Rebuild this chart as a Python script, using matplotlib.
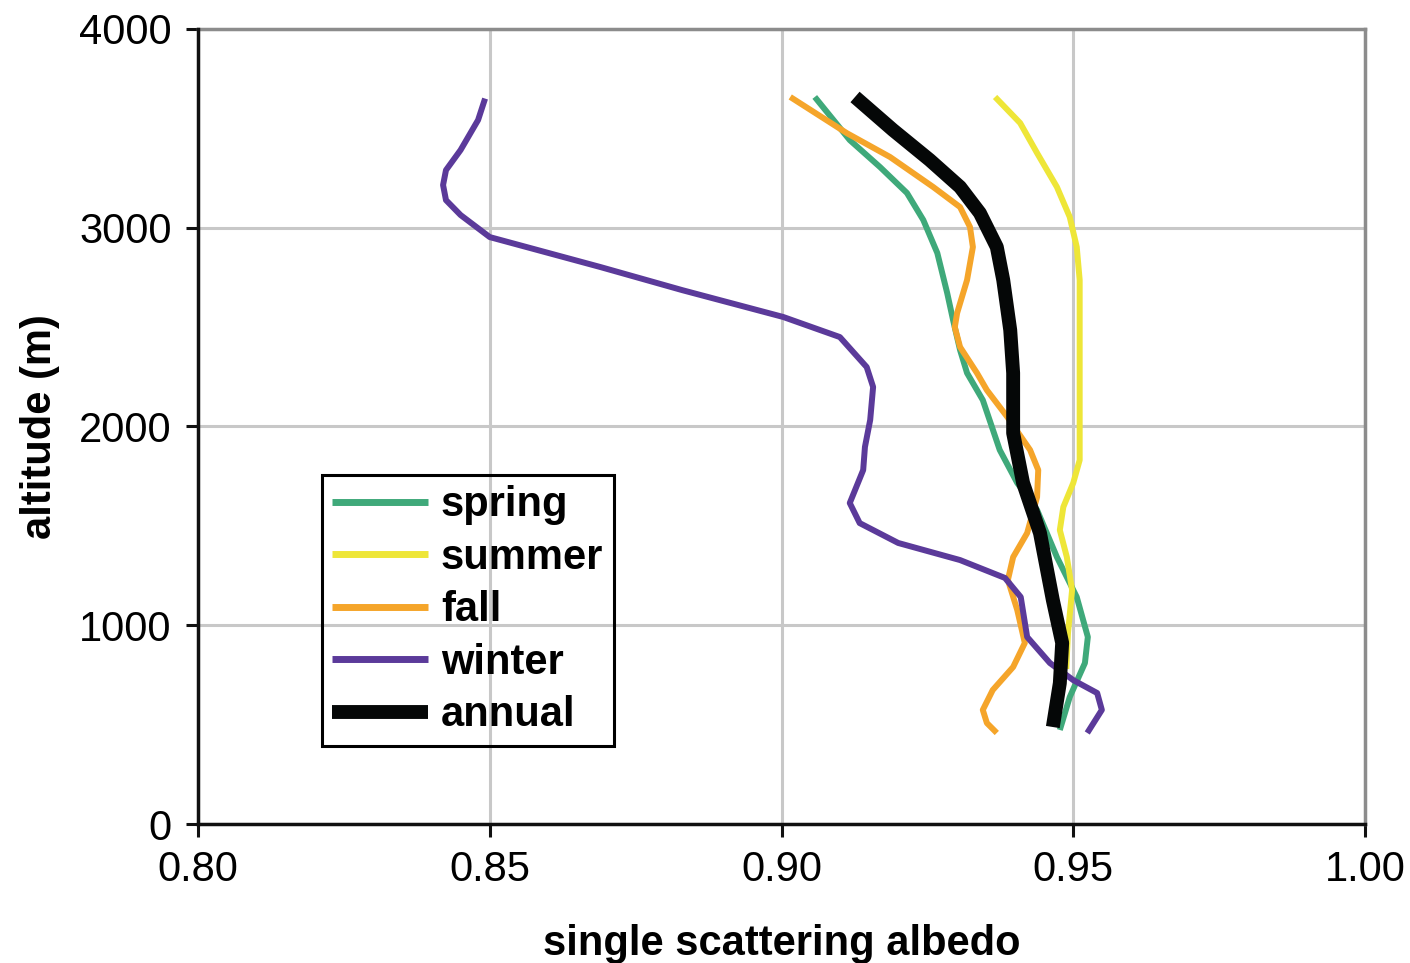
import matplotlib.pyplot as plt
from matplotlib.ticker import FixedLocator

plt.rcParams['font.family'] = ['Liberation Sans', 'DejaVu Sans']

# vertical profiles: altitude (m) vs single scattering albedo
spring_alt = [3658, 3441, 3305, 3175, 3039, 2873, 2671, 2536, 2385, 2269, 2133,
              1882, 1716, 1580, 1343, 1142, 941, 810, 639, 473]
spring_ssa = [0.9057, 0.9117, 0.9169, 0.9215, 0.9243, 0.9267, 0.9284, 0.9294, 0.9306, 0.9318, 0.9345,
              0.9374, 0.9404, 0.9438, 0.9472, 0.9506, 0.9525, 0.9520, 0.9494, 0.9477]

summer_alt = [3658, 3527, 3376, 3205, 3054, 2903, 2737, 2385, 2234, 1831, 1716,
              1595, 1479, 1343, 1177, 961, 840, 780]
summer_ssa = [0.9366, 0.9409, 0.9438, 0.9472, 0.9494, 0.9506, 0.9511, 0.9511, 0.9511, 0.9511, 0.9500,
              0.9483, 0.9477, 0.9489, 0.9498, 0.9491, 0.9489, 0.9488]

fall_alt = [3658, 3476, 3356, 3205, 3104, 3004, 2903, 2737, 2571, 2500, 2400, 2269,
            2183, 2048, 1882, 1781, 1645, 1464, 1343, 1228, 1077, 911, 790, 674, 574, 508, 458]
fall_ssa = [0.9015, 0.9112, 0.9186, 0.9260, 0.9306, 0.9323, 0.9328, 0.9318, 0.9301, 0.9297, 0.9306, 0.9335,
            0.9352, 0.9387, 0.9426, 0.9440, 0.9438, 0.9421, 0.9397, 0.9388, 0.9404, 0.9417, 0.9397, 0.9362,
            0.9345, 0.9352, 0.9369]

winter_alt = [3650, 3542, 3391, 3290, 3215, 3139, 3064, 2953, 2802, 2686, 2551, 2450,
              2299, 2199, 2033, 1897, 1781, 1615, 1514, 1414, 1328, 1238, 1142, 941, 810,
              724, 659, 574, 458]
winter_ssa = [0.8492, 0.8480, 0.8450, 0.8425, 0.8420, 0.8425, 0.8450, 0.8500, 0.8690, 0.8830, 0.9003, 0.9100,
              0.9146, 0.9157, 0.9152, 0.9143, 0.9140, 0.9117, 0.9134, 0.9200, 0.9306, 0.9383, 0.9410, 0.9421, 0.9460,
              0.9500, 0.9541, 0.9549, 0.9524]

annual_alt = [3658, 3492, 3341, 3205, 3074, 2903, 2737, 2485, 2269, 1967, 1716, 1464, 1127, 911, 709, 488]
annual_ssa = [0.9126, 0.9191, 0.9254, 0.9306, 0.9340, 0.9369, 0.9380, 0.9392, 0.9397, 0.9397, 0.9414, 0.9443,
              0.9465, 0.9481, 0.9477, 0.9465]

fig = plt.figure(figsize=(14.1, 9.63), dpi=100)
ax = fig.add_axes([198 / 1410, 1 - 824 / 963, (1365 - 198) / 1410, (824 - 29) / 963])

style = dict(lw=4.3, zorder=3, solid_joinstyle='round', solid_capstyle='butt')
ax.plot(spring_ssa, spring_alt, color='#3fa97a', label='spring', **style)
ax.plot(summer_ssa, summer_alt, color='#eee638', label='summer', **style)
ax.plot(fall_ssa, fall_alt, color='#f5a52a', label='fall', **style)
ax.plot(winter_ssa, winter_alt, color='#5b3a9a', label='winter', **style)
ax.plot(annual_ssa, annual_alt, color='#050707', lw=10, label='annual', zorder=4,
        solid_joinstyle='round', solid_capstyle='butt')

ax.set_xlim(0.80, 1.00)
ax.set_ylim(0, 4000)
ax.xaxis.set_major_locator(FixedLocator([0.80, 0.85, 0.90, 0.95, 1.00]))
ax.yaxis.set_major_locator(FixedLocator([0, 1000, 2000, 3000, 4000]))
ax.set_xticklabels(['0.80', '0.85', '0.90', '0.95', '1.00'])
ax.set_yticklabels(['0', '1000', '2000', '3000', '4000'])
ax.grid(True, color='#c8c8c8', lw=2.2, zorder=0)

for s in ['top', 'right']:
    ax.spines[s].set_color('#8c8c8c')
    ax.spines[s].set_linewidth(2.5)
for s in ['left', 'bottom']:
    ax.spines[s].set_color('#111111')
    ax.spines[s].set_linewidth(2.5)
    ax.spines[s].set_zorder(5)

ax.tick_params(direction='out', length=9, width=2.2, labelsize=30, pad=10, color='#111111')
ax.set_xlabel('single scattering albedo', fontsize=30, fontweight='bold', labelpad=24)
ax.set_ylabel('altitude (m)', fontsize=30, fontweight='bold', labelpad=14)

leg = ax.legend(loc='upper left', bbox_to_anchor=((322 - 198) / 1167, (824 - 475) / 795),
                frameon=True, fancybox=False, framealpha=1, edgecolor='black',
                prop={'weight': 'bold', 'size': 30}, handlelength=2.3, handletextpad=0.3,
                labelspacing=0.3, borderpad=0.25, borderaxespad=0)
leg.get_frame().set_facecolor('none')
leg.get_frame().set_linewidth(2.2)
for line in leg.get_lines()[:4]:
    line.set_linewidth(5)

fig.savefig('out.png', dpi=100, facecolor='white')
